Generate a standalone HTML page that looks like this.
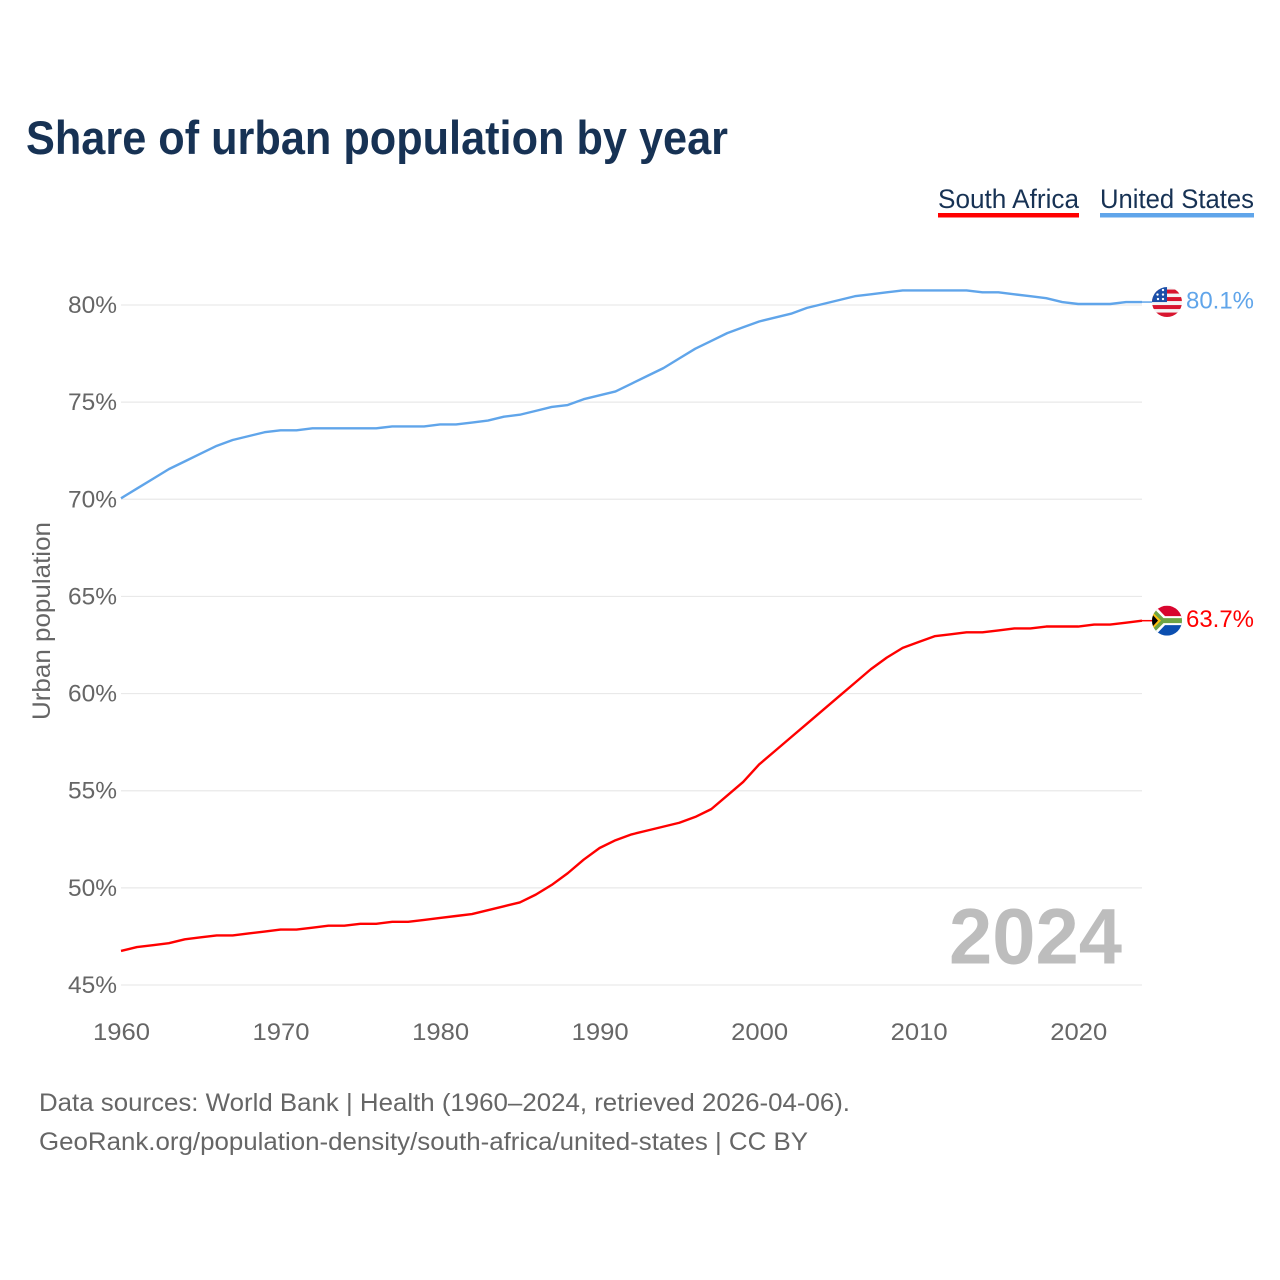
<!DOCTYPE html>
<html lang="en">
<head>
<meta charset="utf-8">
<title>Share of urban population by year</title>
<style>
html,body{margin:0;padding:0;background:#fff;}
svg{display:block;font-family:"Liberation Sans",sans-serif;}
</style>
</head>
<body>
<svg id="chart" width="1280" height="1280" viewBox="0 0 1280 1280" xmlns="http://www.w3.org/2000/svg">
  <defs>
    <clipPath id="flag-clip"><circle cx="0" cy="0" r="15"/></clipPath>
  </defs>
  <rect width="1280" height="1280" fill="#fff"/>
  <text x="26" y="154" font-size="47" font-weight="700" fill="#173254" textLength="702" lengthAdjust="spacingAndGlyphs">Share of urban population by year</text>

  <g>
    <g>
      <text x="938" y="208" font-size="27" fill="#173254" textLength="141" lengthAdjust="spacingAndGlyphs">South Africa</text>
      <rect x="938" y="213" width="141" height="4.5" fill="#ff0000"/>
    </g>
    <g>
      <text x="1100" y="208" font-size="27" fill="#173254" textLength="154" lengthAdjust="spacingAndGlyphs">United States</text>
      <rect x="1100" y="213" width="154" height="4.5" fill="#60a5ea"/>
    </g>
  </g>

  <g id="grid"></g>
  <g id="y-labels"></g>
  <g id="x-labels"></g>

  <text transform="translate(50,720) rotate(-90)" font-size="25" fill="#666" textLength="198" lengthAdjust="spacingAndGlyphs">Urban population</text>

  <text x="949" y="963.5" font-size="79" font-weight="700" fill="#bdbdbd" textLength="173" lengthAdjust="spacingAndGlyphs">2024</text>

  <g id="series" transform="translate(0,-1)">
    <path id="line-sa" fill="none" stroke="#ff0000" stroke-width="2.4" stroke-linejoin="round"/>
    <path id="line-us" fill="none" stroke="#60a5ea" stroke-width="2.4" stroke-linejoin="round"/>
    <line id="lead-sa" stroke="#ff0000" stroke-width="1.5"/>
    <line id="lead-us" stroke="#60a5ea" stroke-width="1.5"/>
  </g>

  <g id="flag-us">
    <g clip-path="url(#flag-clip)">
      <rect x="-15" y="-15" width="30" height="30" fill="#f4f4f4"/>
      <rect x="-15" y="-12.5" width="30" height="4" fill="#d8152f"/>
      <rect x="-15" y="-5" width="30" height="4" fill="#d8152f"/>
      <rect x="-15" y="3" width="30" height="4" fill="#d8152f"/>
      <rect x="-15" y="10.5" width="30" height="4.5" fill="#d8152f"/>
      <rect x="-15" y="-15" width="15" height="15" fill="#1c4fa8"/>
      <circle cx="-9" cy="-3" r="1.2" fill="#fff"/>
      <circle cx="-4" cy="-3" r="1.2" fill="#fff"/>
      <circle cx="-9.5" cy="-7.5" r="1.2" fill="#fff"/>
      <circle cx="-4" cy="-7.5" r="1.2" fill="#fff"/>
      <circle cx="-4" cy="-12" r="1.2" fill="#fff"/>
    </g>
  </g>

  <g id="flag-sa">
    <g clip-path="url(#flag-clip)">
      <rect x="-15" y="-15" width="30" height="15" fill="#d9062f"/>
      <rect x="-15" y="0" width="30" height="15" fill="#0b4fb0"/>
      <path d="M-15,-18 L-2,-4.5 L15,-4.5 L15,4.5 L-2,4.5 L-15,18 Z" fill="#fff"/>
      <path d="M-15,-14 L-3.5,-2.5 L15,-2.5 L15,2.5 L-3.5,2.5 L-15,14 Z" fill="#6da544"/>
      <path d="M-15,-9 L-6,0 L-15,9 Z" fill="#ffc20e"/>
      <path d="M-15,-6.5 L-9,0 L-15,6.5 Z" fill="#000"/>
    </g>
  </g>

  <text id="value-us" x="1186" font-size="24" fill="#60a5ea" textLength="68" lengthAdjust="spacingAndGlyphs"></text>
  <text id="value-sa" x="1186" font-size="24" fill="#ff0000" textLength="68" lengthAdjust="spacingAndGlyphs"></text>

  <g>
    <text x="39" y="1111" font-size="25" fill="#666" textLength="811" lengthAdjust="spacingAndGlyphs">Data sources: World Bank | Health (1960–2024, retrieved 2026-04-06).</text>
    <text x="39" y="1150" font-size="25" fill="#666" textLength="769" lengthAdjust="spacingAndGlyphs">GeoRank.org/population-density/south-africa/united-states | CC BY</text>
  </g>
</svg>

<script>
const startYear = 1960;
const unitedStates = [70.0,70.5,71.0,71.5,71.9,72.3,72.7,73.0,73.2,73.4,73.5,73.5,73.6,73.6,73.6,73.6,73.6,73.7,73.7,73.7,73.8,73.8,73.9,74.0,74.2,74.3,74.5,74.7,74.8,75.1,75.3,75.5,75.9,76.3,76.7,77.2,77.7,78.1,78.5,78.8,79.1,79.3,79.5,79.8,80.0,80.2,80.4,80.5,80.6,80.7,80.7,80.7,80.7,80.7,80.6,80.6,80.5,80.4,80.3,80.1,80.0,80.0,80.0,80.1,80.1];
const southAfrica = [46.7,46.9,47.0,47.1,47.3,47.4,47.5,47.5,47.6,47.7,47.8,47.8,47.9,48.0,48.0,48.1,48.1,48.2,48.2,48.3,48.4,48.5,48.6,48.8,49.0,49.2,49.6,50.1,50.7,51.4,52.0,52.4,52.7,52.9,53.1,53.3,53.6,54.0,54.7,55.4,56.3,57.0,57.7,58.4,59.1,59.8,60.5,61.2,61.8,62.3,62.6,62.9,63.0,63.1,63.1,63.2,63.3,63.3,63.4,63.4,63.4,63.5,63.5,63.6,63.7];
const yTicks = [45,50,55,60,65,70,75,80];
const xTicks = [1960,1970,1980,1990,2000,2010,2020];

const NS = 'http://www.w3.org/2000/svg';
function xScale(year){ return 121 + (year - 1960) * (1142 - 121) / 64; }
function yScale(v){ return 985 - (v - 45) * (985 - 305) / 35; }
function linePath(values){
  return values.map(function(v,i){
    return (i ? 'L' : 'M') + xScale(startYear + i).toFixed(2) + ',' + yScale(v).toFixed(2);
  }).join(' ');
}

const grid = document.getElementById('grid');
const yLabels = document.getElementById('y-labels');
yTicks.forEach(function(t){
  const ln = document.createElementNS(NS,'line');
  
  
  ln.setAttribute('x1', 121);
  ln.setAttribute('x2', 1142);
  ln.setAttribute('y1', yScale(t));
  ln.setAttribute('y2', yScale(t));
  ln.setAttribute('stroke', '#e9e9e9');
  ln.setAttribute('stroke-width', '1.2');
  grid.appendChild(ln);

  const tx = document.createElementNS(NS,'text');
  
  
  tx.setAttribute('x', 68);
  tx.setAttribute('y', yScale(t) + 8);
  tx.setAttribute('font-size', '24');
  tx.setAttribute('fill', '#666');
  tx.setAttribute('textLength', '49');
  tx.setAttribute('lengthAdjust', 'spacingAndGlyphs');
  tx.textContent = t + '%';
  yLabels.appendChild(tx);
});

const xLabels = document.getElementById('x-labels');
xTicks.forEach(function(t){
  const tx = document.createElementNS(NS,'text');
  
  
  tx.setAttribute('x', xScale(t) - 28);
  tx.setAttribute('y', 1040);
  tx.setAttribute('font-size', '24');
  tx.setAttribute('fill', '#666');
  tx.setAttribute('textLength', '57');
  tx.setAttribute('lengthAdjust', 'spacingAndGlyphs');
  tx.textContent = t;
  xLabels.appendChild(tx);
});

document.getElementById('line-us').setAttribute('d', linePath(unitedStates));
document.getElementById('line-sa').setAttribute('d', linePath(southAfrica));

function placeEnd(values, key){
  const last = values[values.length - 1];
  const y = yScale(last);
  const lead = document.getElementById('lead-' + key);
  lead.setAttribute('x1', 1142);
  lead.setAttribute('x2', 1153);
  lead.setAttribute('y1', y);
  lead.setAttribute('y2', y);
  document.getElementById('flag-' + key).setAttribute('transform', 'translate(1167,' + (y - 1) + ')');
  const label = document.getElementById('value-' + key);
  label.setAttribute('y', y + 5.5);
  label.textContent = last.toFixed(1) + '%';
}
placeEnd(unitedStates, 'us');
placeEnd(southAfrica, 'sa');
</script>
</body>
</html>
